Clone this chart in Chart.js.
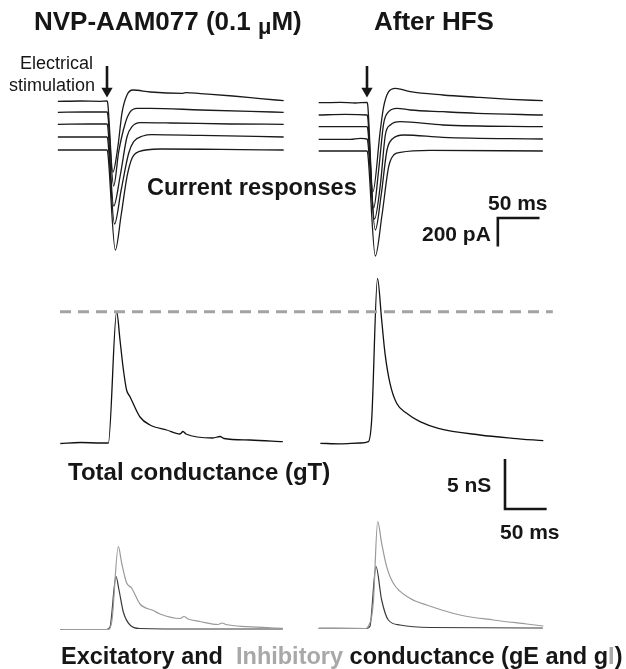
<!DOCTYPE html>
<html>
<head>
<meta charset="utf-8">
<script src="https://cdn.jsdelivr.net/npm/chart.js@4.4.1/dist/chart.umd.min.js"></script>
<style>
  body { margin: 0; background: #fff; }
  #wrap { position: relative; width: 626px; height: 669px; font-family: "Liberation Sans", Arial, sans-serif; color: #161616; }
  #wrap canvas { position: absolute; left: 0; top: 0; }
  .lbl { position: absolute; white-space: nowrap; font-weight: bold; line-height: 1; transform: translateY(-50%); }
  .thin { font-weight: normal; }
  .grey { color: #a8a8a8; }
</style>
</head>
<body>
<div id="wrap">
  <canvas id="traces" width="626" height="669"></canvas>

  <div class="lbl" style="left:34px;top:21px;font-size:26px">NVP-AAM077 (0.1 <span style="font-size:22px;position:relative;top:4px">μ</span>M)</div>
  <div class="lbl" style="left:374px;top:21px;font-size:26px">After HFS</div>

  <div class="lbl thin" style="left:20px;top:63px;font-size:18px">Electrical</div>
  <div class="lbl thin" style="left:9px;top:85px;font-size:18px">stimulation</div>

  <div class="lbl" style="left:147px;top:188px;font-size:23.6px">Current responses</div>
  <div class="lbl" style="left:488px;top:202px;font-size:21px">50 ms</div>
  <div class="lbl" style="left:422px;top:233px;font-size:21px">200 pA</div>

  <div class="lbl" style="left:68px;top:472px;font-size:24px">Total conductance (gT)</div>
  <div class="lbl" style="left:447px;top:484px;font-size:21px">5 nS</div>
  <div class="lbl" style="left:500px;top:531px;font-size:21px">50 ms</div>

  <div class="lbl" style="left:61px;top:657px;font-size:23.5px">Excitatory and&nbsp; <span class="grey">Inhibitory</span> conductance (gE and g<span class="grey">I</span>)</div>
</div>

<script>
// Recorded traces, time in ms from the stimulus.
// Current responses (pA), five holding potentials, before and after HFS
const curL1 = [[-59,-10],[-32,-7],[-8,-9],[0,-7],[1,-28],[7,-505],[13,-330],[18,-90],[24,35],[31,70],[52,56],[91,47],[95,52],[112,45],[151,28],[184,10],[212,-5]];
const curL2 = [[-59,-86],[-26,-84],[0,-84],[1,-105],[8,-602],[14,-364],[22,-161],[28,-82],[36,-58],[52,-58],[112,-70],[172,-80],[212,-86]];
const curL3 = [[-59,-170],[-20,-168],[0,-168],[1,-189],[8,-742],[16,-525],[24,-257],[30,-187],[40,-159],[76,-161],[148,-168],[212,-170]];
const curL4 = [[-59,-259],[0,-259],[1,-280],[9,-868],[17,-630],[26,-373],[32,-292],[43,-252],[54,-242],[112,-248],[212,-259]];
const curL5 = [[-59,-350],[0,-350],[1,-371],[10,-1050],[17,-805],[24,-537],[30,-408],[38,-362],[64,-343],[136,-346],[212,-350]];

const curR1 = [[-58,-19],[-32,-16],[-14,-21],[0,-17],[1,-42],[7,-644],[16,-210],[20,-47],[26,58],[34,82],[52,58],[91,35],[132,19],[172,5],[211,-5]];
const curR2 = [[-58,-105],[-26,-101],[0,-105],[1,-126],[8,-756],[14,-490],[20,-163],[26,-82],[36,-58],[52,-70],[91,-82],[132,-93],[211,-105]];
const curR3 = [[-58,-187],[0,-187],[1,-206],[9,-833],[16,-595],[22,-245],[28,-175],[40,-152],[91,-175],[211,-187]];
const curR4 = [[-58,-275],[-20,-276],[-8,-269],[0,-273],[1,-294],[10,-910],[17,-665],[24,-350],[30,-275],[44,-245],[91,-261],[211,-273]];
const curR5 = [[-58,-357],[0,-357],[1,-378],[10,-1092],[18,-805],[26,-467],[32,-385],[40,-367],[76,-353],[211,-357]];

// Total conductance gT (nS)
const gTL = [[-56,-0.05],[-32,0.05],[-8,0],[1.6,0],[11.6,13.13],[15.6,10.3],[19.4,7.5],[23.5,5.3],[27.6,4.63],[39.6,2.6],[51.6,1.8],[71.6,1.3],[87.6,0.9],[91.2,1.15],[94.8,0.9],[127,0.5],[135.6,0.65],[140.4,0.45],[171.6,0.3],[211,0.13]];
const gTR = [[-56,-0.03],[-32,-0.08],[-8,0],[1.6,0.13],[5.6,2.3],[12.6,16.47],[17.6,12.3],[21.6,8.97],[27.6,5.97],[35.6,3.97],[47.6,2.97],[63.6,2.13],[85.6,1.47],[135.6,0.8],[175,0.47],[211.6,0.23]];

// Excitatory (gE) and inhibitory (gI) conductance (nS)
const gEL = [[-56,0],[-0.4,0],[3.6,0.25],[10.8,5.3],[14.4,3.95],[19.6,1.75],[27.6,0.45],[39.6,0.1],[111.6,0.05],[211,0.05]];
const gIL = [[-56,0],[1.2,0],[6,0.95],[13.6,8.28],[17.6,6.65],[23.6,4.65],[29.5,4.15],[39.6,2.55],[55.6,1.9],[63.6,1.55],[87.6,1.1],[92.4,1.3],[97.2,1.05],[111.6,0.8],[133.2,0.5],[138,0.65],[142.8,0.5],[167.6,0.28],[211,0.12]];
const gER = [[-58,0.12],[0,0.1],[3.6,0.35],[10.8,6.28],[17.6,2.95],[25.6,0.95],[39.6,0.45],[75.6,0.2],[211,0.15]];
const gIR = [[-58,0.12],[-1.2,0.1],[2.4,0.45],[5.6,1.28],[7.8,2.95],[12.8,10.78],[17.6,8.62],[23.6,6.28],[31.6,4.62],[51.6,3.12],[71.6,2.45],[111.6,1.45],[151.6,0.95],[191.6,0.55],[211.6,0.35]];

// Scale bar lengths
const barTime = 50;      // ms
const barCurrent = 200;  // pA
const barCond = 5;       // nS

// layout: px per ms and where t = 0 sits in each column
const MS_PER_PX = 1.2;
const stimXLeft = 107, stimXRight = 367;
const W = 626, H = 669;

const pts = arr => arr.map(([x, y]) => ({ x, y }));

function trace(data, xAxisID, yAxisID, color, width) {
  return {
    data: pts(data), xAxisID, yAxisID, showLine: true,
    borderColor: color, borderWidth: width, pointRadius: 0,
    cubicInterpolationMode: 'monotone', fill: false
  };
}

function straight(data, xAxisID, yAxisID, color, width, dash) {
  return {
    data: pts(data), xAxisID, yAxisID, showLine: true,
    borderColor: color, borderWidth: width, borderDash: dash || [],
    pointRadius: 0, tension: 0, fill: false, borderCapStyle: 'butt'
  };
}

// stimulation arrow: shaft plus a downward triangle head at t = 0
function arrow(xAxisID) {
  return [
    straight([[0, 238], [0, 84]], xAxisID, 'yI', '#161616', 2.6),
    {
      data: [{ x: 0, y: 63 }], xAxisID, yAxisID: 'yI', showLine: false,
      pointStyle: 'triangle', rotation: 180, pointRadius: 6.5,
      pointBackgroundColor: '#161616', pointBorderWidth: 0
    }
  ];
}

const peakL = Math.max(...gTL.map(p => p[1]));

const datasets = [
  ...[curL1, curL2, curL3, curL4, curL5].map(d => trace(d, 'xL', 'yI', '#1a1a1a', 1.3)),
  ...[curR1, curR2, curR3, curR4, curR5].map(d => trace(d, 'xR', 'yI', '#1a1a1a', 1.3)),
  ...arrow('xL'), ...arrow('xR'),
  straight([[-56.4, peakL], [535, peakL]], 'xL', 'yG', '#a3a3a3', 3, [11, 7]),
  trace(gTL, 'xL', 'yG', '#111', 1.3),
  trace(gTR, 'xR', 'yG', '#111', 1.3),
  trace(gIL, 'xL', 'yB', '#9a9a9a', 1.2),
  trace(gIR, 'xR', 'yB', '#9a9a9a', 1.2),
  trace(gEL, 'xL', 'yB', '#3a3a3a', 1.2),
  trace(gER, 'xR', 'yB', '#3a3a3a', 1.2),
  // scale bars
  straight([[157 + barTime, -826], [157, -826], [157, -826 - barCurrent]], 'xR', 'yI', '#161616', 2.6),
  straight([[165.6, -6.6 + barCond], [165.6, -6.6], [165.6 + barTime, -6.6]], 'xR', 'yG', '#161616', 2.6)
];

new Chart(document.getElementById('traces'), {
  type: 'scatter',
  data: { datasets },
  options: {
    responsive: false,
    animation: false,
    events: [],
    layout: { padding: 0, autoPadding: false },
    plugins: { legend: { display: false }, tooltip: { enabled: false } },
    scales: {
      xL: { type: 'linear', display: false, min: -stimXLeft * MS_PER_PX, max: (W - stimXLeft) * MS_PER_PX },
      xR: { type: 'linear', display: false, min: -stimXRight * MS_PER_PX, max: (W - stimXRight) * MS_PER_PX },
      // current: 7 pA per px
      yI: { type: 'linear', display: false, min: 700 - 7 * H, max: 700 },
      // conductance: 10 px per nS
      yG: { type: 'linear', display: false, min: (443 - H) / 10, max: 44.3 },
      yB: { type: 'linear', display: false, min: (629.5 - H) / 10, max: 62.95 }
    }
  }
});
</script>
</body>
</html>
